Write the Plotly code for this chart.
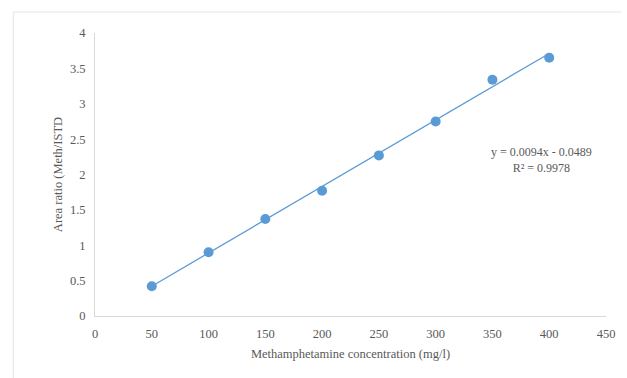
import plotly.graph_objects as go

# Calibration data
concentration = [50, 100, 150, 200, 250, 300, 350, 400]
area_ratio = [0.42, 0.90, 1.37, 1.77, 2.27, 2.75, 3.34, 3.65]

# Linear trendline coefficients
slope = 0.0094
intercept = -0.0489
r_squared = 0.9978

x_ticks = [0, 50, 100, 150, 200, 250, 300, 350, 400, 450]
y_ticks = [0, 0.5, 1, 1.5, 2, 2.5, 3, 3.5, 4]
y_tick_text = ["0", "0.5", "1", "1.5", "2", "2.5", "3", "3.5", "4"]

blue = "#5B9BD5"
text_grey = "#595959"
font_family = "Liberation Serif"

trend_x = [concentration[0], concentration[-1]]
trend_y = [slope * x + intercept for x in trend_x]

fig = go.Figure()
fig.add_trace(go.Scatter(
    x=trend_x, y=trend_y, mode="lines",
    line=dict(color=blue, width=1.3), hoverinfo="skip", showlegend=False,
))
fig.add_trace(go.Scatter(
    x=concentration, y=area_ratio, mode="markers",
    marker=dict(color=blue, size=10, line=dict(width=0)), showlegend=False,
))

sign = "-" if intercept < 0 else "+"
fig.add_annotation(
    x=393, y=2.2, xref="x", yref="y", showarrow=False,
    text=f"y = {slope:.4f}x {sign} {abs(intercept):.4f}<br>R² = {r_squared:.4f}",
    font=dict(family=font_family, size=12, color=text_grey), align="center",
)

# Light chart-area frame (left and top edges)
frame = dict(color="#e4e4e4", width=1)
fig.add_shape(type="line", xref="paper", yref="paper", x0=-0.16, x1=-0.16, y0=-0.22, y1=1.074, line=frame, layer="below")
fig.add_shape(type="line", xref="paper", yref="paper", x0=-0.16, x1=1.03, y0=1.074, y1=1.074, line=frame, layer="below")

fig.update_layout(
    width=627, height=378,
    margin=dict(l=95, r=15, t=33, b=62),
    paper_bgcolor="white", plot_bgcolor="white",
    font=dict(family=font_family, size=12, color=text_grey),
    xaxis=dict(
        range=[0, 450], tickvals=x_ticks, showgrid=False, zeroline=False,
        showline=True, linecolor="#d9d9d9", linewidth=1, ticks="",
        ticklabelstandoff=6,
        tickfont=dict(family=font_family, size=12.5, color=text_grey),
        title=dict(text="Methamphetamine concentration (mg/l)", standoff=9,
                   font=dict(family=font_family, size=12.5, color=text_grey)),
    ),
    yaxis=dict(
        range=[0, 4], tickvals=y_ticks, ticktext=y_tick_text, showgrid=False, zeroline=False,
        showline=True, linecolor="#d9d9d9", linewidth=1, ticks="",
        ticklabelstandoff=6,
        tickfont=dict(family=font_family, size=12.5, color=text_grey),
        title=dict(text="Area ratio (Meth/ISTD", standoff=4,
                   font=dict(family=font_family, size=12.5, color=text_grey)),
    ),
)

fig.write_html("out.html")
